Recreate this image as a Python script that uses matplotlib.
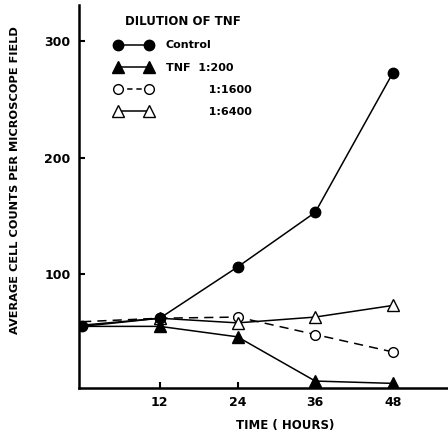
import matplotlib.pyplot as plt

hours = [0, 12, 24, 36, 48]
control = [55, 62, 106, 153, 273]
tnf_200 = [55, 55, 46, 8, 6]
tnf_1600 = [59, 62, 63, 48, 33]
tnf_6400 = [56, 62, 58, 63, 73]

plt.rcParams['font.family'] = 'DejaVu Sans'
plt.rcParams['font.weight'] = 'bold'

fig = plt.figure(figsize=(4.48, 4.36), dpi=100)
ax = fig.add_axes([0.176, 0.110, 0.824, 0.878])

lw = 1.1
# markers at t=0 hidden behind the control point, as in the original
ax.plot(hours, tnf_200, '-^', color='black', lw=lw, ms=8, markevery=[1, 2, 3, 4], label='TNF  1:200')
ax.plot(hours, tnf_1600, '--o', color='black', lw=lw, ms=7, mfc='white', dashes=(6, 4),
        markevery=[1, 2, 3, 4], label='           1:1600')
ax.plot(hours, tnf_6400, '-^', color='black', lw=lw, ms=8.5, mfc='white',
        markevery=[1, 2, 3, 4], label='           1:6400')
ax.plot(hours, control, '-o', color='black', lw=lw, ms=7.5, label='Control')

ax.set_xlim(-0.5, 56.5)
ax.set_ylim(2, 331)
ax.set_xticks([12, 24, 36, 48])
ax.set_yticks([100, 200, 300])
ax.tick_params(direction='in', length=4, width=1.5, labelsize=9, pad=6)
for lab in ax.get_xticklabels() + ax.get_yticklabels():
    lab.set_fontweight('bold')

for s in ['top', 'right']:
    ax.spines[s].set_visible(False)
for s in ['left', 'bottom']:
    ax.spines[s].set_linewidth(1.8)

fig.text(0.636, 0.025, 'TIME ( HOURS)', fontsize=8.5, fontweight='bold', ha='center', va='center')
fig.text(0.034, 0.588, 'AVERAGE CELL COUNTS PER MICROSCOPE FIELD', fontsize=8.2,
         fontweight='bold', rotation=90, ha='center', va='center')

h, l = ax.get_legend_handles_labels()
order = [3, 0, 1, 2]
leg = ax.legend([h[i] for i in order], [l[i] for i in order], loc='upper left',
                bbox_to_anchor=(0.07, 1.0), frameon=False,
                title='DILUTION OF TNF', numpoints=2, handlelength=3.4,
                fontsize=8, title_fontsize=8.5, labelspacing=1.1, handletextpad=1.2)
leg.get_title().set_fontweight('bold')
for t in leg.get_texts():
    t.set_fontweight('bold')
for lh in leg.legend_handles:
    lh.set_markevery(None)
leg.legend_handles[2].set_dashes((3.5, 2.5))

fig.savefig('out.png', dpi=100)
